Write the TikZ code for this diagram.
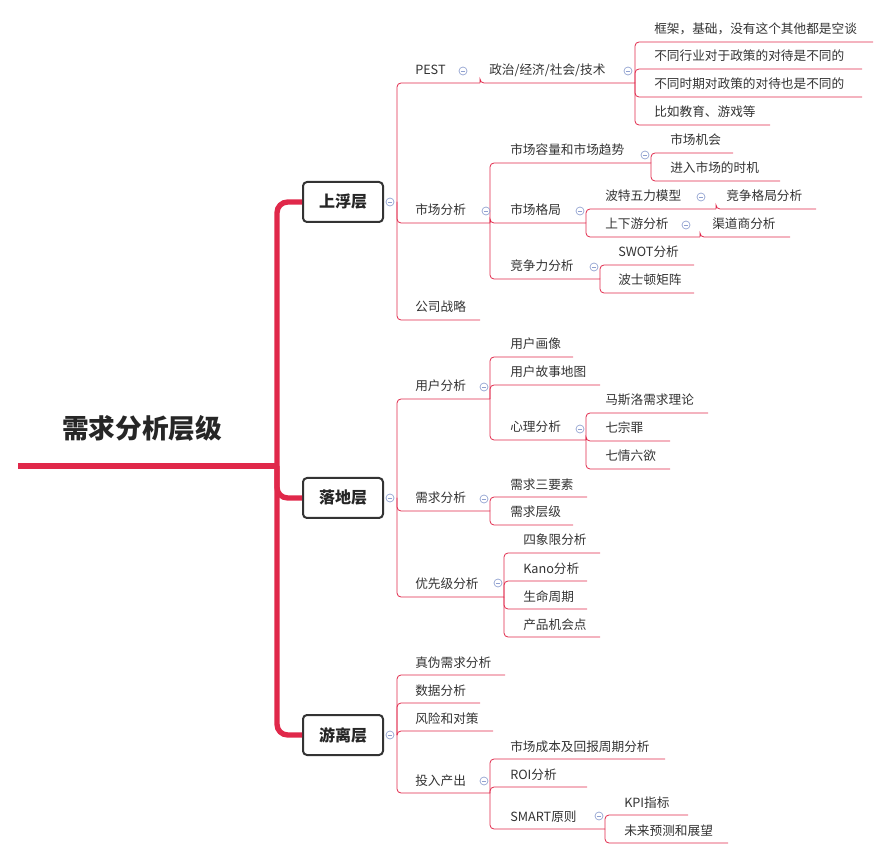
\documentclass[tikz,border=0pt]{standalone}
\usepackage{fontspec}
\setmainfont{Noto Sans CJK SC}
\usetikzlibrary{positioning}
\definecolor{brred}{HTML}{E0284A}
\definecolor{foldc}{HTML}{8FA0D0}
\tikzset{
  branch/.style={draw=brred,line width=0.6pt,rounded corners=3pt},
  trunk/.style={draw=brred,line width=4pt,rounded corners=8pt},
  lbl/.style={anchor=base west,inner sep=0pt,font=\fontsize{9.5pt}{11pt}\selectfont,text=black!80},
  layer/.style={draw=black!80,line width=1.5pt,rounded corners=3pt,minimum width=60pt,minimum height=30pt,font=\bfseries\fontsize{12pt}{14pt}\selectfont,text=black!85},
  fold/.style={circle,draw=foldc,line width=0.5pt,minimum size=6pt,inner sep=0pt,
    path picture={\draw[foldc,line width=0.5pt] ([xshift=-1.6pt]path picture bounding box.center)--([xshift=1.6pt]path picture bounding box.center);}}
}
% item: name, text x, line end x, line y, text
\newcommand{\mmitem}[5]{\coordinate (#1-r) at (#3,#4);
  \node[lbl] (#1) at (#2,#4-8) {#5};}
\newcommand{\mmfold}[3]{\node[fold] (#1) at (#2,#3) {};}
\begin{document}
\begin{tikzpicture}[x=0.75pt,y=-0.75pt]
\useasboundingbox (0,0) rectangle (890,859);
% title and layers
\node[font=\bfseries\fontsize{20pt}{24pt}\selectfont,text=black!85] (title) at (142,428) {需求分析层级};
\coordinate (title-l) at (18,466);
\coordinate (tr) at (277,466);
\node[layer] (up) at (343,202) {上浮层};
\node[layer] (mid) at (343,498) {落地层};
\node[layer] (dn) at (343,735) {游离层};
\draw[trunk] (title-l) -- (tr);
\draw[trunk] (up.west) -| (tr) |- (dn.west);
\draw[trunk] (mid.west) -| (tr);
\coordinate (up-j) at (397,202);
\coordinate (mid-j) at (397,498);
\coordinate (dn-j) at (397,735);
\mmfold{f1}{390}{202}
\mmfold{f2}{390}{498}
\mmfold{f3}{390}{735}

% 上浮层
\mmitem{pest}{415}{480}{83}{PEST}
\mmitem{pol}{489}{635}{83}{政治/经济/社会/技术}
\mmitem{p1}{654}{873}{42}{框架，基础，没有这个其他都是空谈}
\mmitem{p2}{654}{862}{69}{不同行业对于政策的对待是不同的}
\mmitem{p3}{654}{862}{97}{不同时期对政策的对待也是不同的}
\mmitem{p4}{654}{770}{125}{比如教育、游戏等}
\mmitem{mkt}{415}{490}{223}{市场分析}
\mmitem{cap}{510}{651}{163}{市场容量和市场趋势}
\mmitem{cap1}{670}{733}{153}{市场机会}
\mmitem{cap2}{670}{780}{181}{进入市场的时机}
\mmitem{pat}{510}{586}{223}{市场格局}
\mmitem{por}{605}{716}{209}{波特五力模型}
\mmitem{por1}{726}{816}{209}{竞争格局分析}
\mmitem{ud}{605}{700}{237}{上下游分析}
\mmitem{ud1}{712}{790}{237}{渠道商分析}
\mmitem{cmp}{510}{600}{279}{竞争力分析}
\mmitem{swot}{618}{694}{265}{SWOT分析}
\mmitem{bcg}{618}{694}{293}{波士顿矩阵}
\mmitem{str}{415}{480}{320}{公司战略}
\foreach \a/\b in {up-j/pest,up-j/mkt,up-j/str,pest-r/pol,pol-r/p1,pol-r/p2,pol-r/p3,pol-r/p4,
  mkt-r/cap,mkt-r/pat,mkt-r/cmp,cap-r/cap1,cap-r/cap2,pat-r/por,pat-r/ud,por-r/por1,ud-r/ud1,
  cmp-r/swot,cmp-r/bcg}
  \draw[branch] (\a) |- (\b-r);
\mmfold{f4}{463}{71}
\mmfold{f5}{628}{71}
\mmfold{f6}{486}{211}
\mmfold{f7}{645}{155}
\mmfold{f8}{580}{211}
\mmfold{f9}{701}{197}
\mmfold{f10}{686}{225}
\mmfold{f11}{594}{267}

% 落地层
\mmitem{usr}{415}{490}{399}{用户分析}
\mmitem{u1}{510}{573}{357}{用户画像}
\mmitem{u2}{510}{600}{385}{用户故事地图}
\mmitem{psy}{510}{586}{440}{心理分析}
\mmitem{s1}{605}{708}{413}{马斯洛需求理论}
\mmitem{s2}{605}{670}{441}{七宗罪}
\mmitem{s3}{605}{670}{469}{七情六欲}
\mmitem{req}{415}{490}{511}{需求分析}
\mmitem{r1}{510}{587}{497}{需求三要素}
\mmitem{r2}{510}{573}{525}{需求层级}
\mmitem{pri}{415}{504}{597}{优先级分析}
\mmitem{q1}{523}{600}{553}{四象限分析}
\mmitem{q2}{523}{587}{581}{Kano分析}
\mmitem{q3}{523}{587}{609}{生命周期}
\mmitem{q4}{523}{600}{637}{产品机会点}
\foreach \a/\b in {mid-j/usr,mid-j/req,mid-j/pri,usr-r/u1,usr-r/u2,usr-r/psy,psy-r/s1,psy-r/s2,psy-r/s3,
  req-r/r1,req-r/r2,pri-r/q1,pri-r/q2,pri-r/q3,pri-r/q4}
  \draw[branch] (\a) |- (\b-r);
\mmfold{f12}{484}{387}
\mmfold{f13}{580}{429}
\mmfold{f14}{484}{499}
\mmfold{f15}{498}{583}

% 游离层
\mmitem{fake}{415}{505}{675}{真伪需求分析}
\mmitem{data}{415}{480}{703}{数据分析}
\mmitem{risk}{415}{493}{731}{风险和对策}
\mmitem{io}{415}{490}{793}{投入产出}
\mmitem{i1}{510}{665}{759}{市场成本及回报周期分析}
\mmitem{i2}{510}{587}{787}{ROI分析}
\mmitem{sm}{510}{605}{829}{SMART原则}
\mmitem{k1}{624}{688}{815}{KPI指标}
\mmitem{k2}{624}{728}{843}{未来预测和展望}
\foreach \a/\b in {dn-j/fake,dn-j/data,dn-j/risk,dn-j/io,io-r/i1,io-r/i2,io-r/sm,sm-r/k1,sm-r/k2}
  \draw[branch] (\a) |- (\b-r);
\mmfold{f16}{484}{781}
\mmfold{f17}{599}{816}
\end{tikzpicture}
\end{document}
